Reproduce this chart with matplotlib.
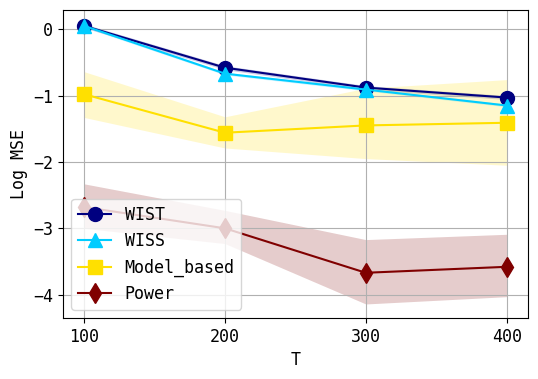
import numpy as np
import matplotlib.pyplot as plt

plt.rcParams["font.family"] = ["DejaVu Sans Mono"]

T = [100, 200, 300, 400]

wist = [0.05, -0.58, -0.88, -1.03]
wist_lo = [0.02, -0.61, -0.91, -1.06]
wist_hi = [0.08, -0.55, -0.85, -1.00]

wiss = [0.05, -0.67, -0.91, -1.15]
wiss_lo = [0.03, -0.69, -0.93, -1.17]
wiss_hi = [0.07, -0.65, -0.89, -1.13]

model = [-0.98, -1.56, -1.45, -1.41]
model_lo = [-1.33, -1.79, -1.95, -2.05]
model_hi = [-0.64, -1.32, -0.89, -0.76]

power = [-2.68, -3.00, -3.67, -3.58]
power_lo = [-3.00, -3.23, -4.14, -4.03]
power_hi = [-2.33, -2.73, -3.17, -3.09]

fig = plt.figure(figsize=(5.38, 3.79), dpi=100)
ax = fig.add_axes([0.117, 0.161, 0.864, 0.813])

series = [
    ("WIST", wist, wist_lo, wist_hi, "navy", "o"),
    ("WISS", wiss, wiss_lo, wiss_hi, "#00ccff", "^"),
    ("Model_based", model, model_lo, model_hi, "#ffe000", "s"),
    ("Power", power, power_lo, power_hi, "maroon", "d"),
]

for name, y, lo, hi, c, m in series:
    ax.plot(T, y, color=c, marker=m, markersize=10, label=name, linewidth=1.5)
    ax.fill_between(T, lo, hi, color=c, alpha=0.2, linewidth=0)

ax.set_xticks(T)
ax.set_yticks([0, -1, -2, -3, -4])
ax.tick_params(labelsize=12)
ax.set_xlabel("T", fontsize=12)
ax.set_ylabel("Log MSE", fontsize=12)
ax.grid(True)
ax.legend(loc="lower left", fontsize=12)

fig.savefig("out.png", dpi=100)
